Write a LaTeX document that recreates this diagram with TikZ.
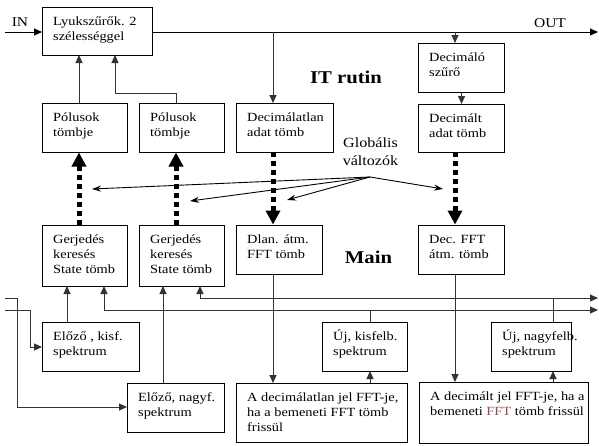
\documentclass[tikz,border=0pt]{standalone}
\usepackage{fontspec}
\setmainfont{Liberation Serif}[FakeStretch=1.15]
\usetikzlibrary{arrows.meta}

\definecolor{wirecol}{gray}{0.2}
\definecolor{fftred}{rgb}{0.55,0.30,0.30}

\tikzset{
  blk/.style={draw=black, line width=1.1pt, anchor=north west, inner sep=0pt},
  txt/.style={anchor=base west, inner sep=0pt,
              font=\fontsize{12.5}{15}\selectfont},
  wire/.style={draw=wirecol, line width=1pt},
  tip/.style={-{Triangle[length=8pt,width=7pt]}},
  dots/.style={draw=black, line width=5pt, dash pattern=on 5pt off 4pt,
               -{Triangle[length=14pt,width=14pt]}},
  glob/.style={draw=black, line width=0.9pt, -{Stealth[length=9pt,width=6pt]}},
  big/.style={font=\fontsize{18}{20}\selectfont\bfseries, inner sep=0pt, anchor=base},
}

% lines stacked from the first baseline downwards
\newcommand\lines[1]{\begin{tabular}[t]{@{}l@{}}#1\end{tabular}}

% box with its text set at the top left corner
\newcommand\blkbox[6]{%
  \node[blk, minimum width=#4pt, minimum height=#5pt] (#1) at (#2,#3) {};
  \node[txt] (#1-t) at ([xshift=11pt,yshift=-18pt]#1.north west) {\lines{#6}};
}

\begin{document}
\begin{tikzpicture}[x=1pt,y=-1pt]
\useasboundingbox (0,0) rectangle (599,445);

% ---- IT routine blocks
\blkbox{ly}{42}{7}{110}{48}{Lyukszűrők. 2\\szélességgel}
\blkbox{p1}{42}{103}{85}{49}{Pólusok\\tömbje}
\blkbox{p2}{139}{103}{85}{49}{Pólusok\\tömbje}
\blkbox{dl}{236}{103}{97}{49}{Decimálatlan\\adat tömb}
\blkbox{dsz}{418}{43}{86}{49}{Decimáló\\szűrő}
\blkbox{dt}{418}{104}{86}{48}{Decimált\\adat tömb}

% ---- main blocks
\blkbox{g1}{42}{225}{85}{61}{Gerjedés\\keresés\\State tömb}
\blkbox{g2}{139}{225}{85}{61}{Gerjedés\\keresés\\State tömb}
\blkbox{dlf}{236}{225}{86}{49}{Dlan. átm.\\FFT tömb}
\blkbox{df}{418}{225}{86}{49}{Dec. FFT\\átm. tömb}

\blkbox{ek}{42}{322}{97}{49}{Előző , kisf.\\spektrum}
\blkbox{en}{127}{383}{97}{49}{Előző, nagyf.\\spektrum}
\blkbox{uk}{322}{322}{85}{49}{Új, kisfelb.\\spektrum}
\blkbox{un}{491}{322}{80}{49}{Új, nagyfelb.\\spektrum}
\blkbox{ad1}{236}{383}{171}{59}{A decimálatlan jel FFT-je,\\ha a bemeneti FFT tömb\\frissül}
\blkbox{ad2}{419}{382}{169}{61}{A decimált jel FFT-je, ha a\\bemeneti {\color{fftred}FFT} tömb frissül}

% ---- titles
\node[big] (itr) at (346,83) {IT rutin};
\node[big] (mn) at (368.5,263) {Main};
\node[anchor=base, inner sep=0pt, font=\fontsize{14}{18}\selectfont]
  (gv-t) at (370.5,147) {\begin{tabular}[t]{@{}c@{}}Globális\\változók\end{tabular}};
\node[anchor=base, inner sep=0pt, font=\fontsize{13.5}{15}\selectfont] (in-t) at (20,26) {IN};
\node[anchor=base, inner sep=0pt, font=\fontsize{13.5}{15}\selectfont] (out-t) at (550,27) {OUT};

% ---- signal path
\coordinate (inL) at (5,32);
\coordinate (outR) at (598,32);
\draw[wire, draw=black, tip] (inL) -- (ly.west |- inL);
\draw[wire, draw=black, tip] (ly.east |- outR) -- (outR);
\draw[wire, tip] (273,32) -- (273,103);
\draw[wire, tip] (455,32) -- (455,43);
\draw[wire, tip] (dsz.south) -- (dt.north);

% poles into the notch filters
\draw[wire, tip] (79,103) -- (79,55);
\draw[wire, tip] (176,103) -- (176,93) -- (115,93) -- (115,55);

% global variable exchange
\draw[dots] (79,225) -- (79,152.5);
\draw[dots] (176,225) -- (176,152.5);
\draw[dots] (273,152) -- (273,224.5);
\draw[dots] (455,152) -- (455,224.5);

\coordinate (gv) at (370,177);
\coordinate (gv1) at (92,189);
\coordinate (gv2) at (190,201);
\coordinate (gv3) at (287,200);
\coordinate (gv4) at (443,189);
\draw[glob] (gv) -- (gv1);
\draw[glob] (gv) -- (gv2);
\draw[glob] (gv) -- (gv3);
\draw[glob] (gv) -- (gv4);

% FFT chain
\draw[wire, tip] (273,274) -- (273,383);
\draw[wire, tip] (455,274) -- (455,382);
\draw[wire, tip] (370,383) -- (370,371);
\draw[wire, tip] (553,382) -- (553,371);

% spectra feedback into the excitation search
\draw[wire, tip] (67,322) -- (67,286);
\draw[wire, tip] (163,383) -- (163,286);
\coordinate (kR) at (598,310);
\coordinate (nR) at (598,298);
\draw[wire, tip] (370,322) -- (370,310) -- (104,310) -- (104,286);
\draw[wire, tip] (370,310) -- (kR);
\draw[wire, tip] (553,322) -- (553,298) -- (200,298) -- (200,286);
\draw[wire, tip] (553,298) -- (nR);

% wrapped-around returns on the left
\draw[wire, tip] (5,298) -- (17,298) -- (17,407) -- (en.west |- 0,407);
\draw[wire, tip] (5,310) -- (30,310) -- (30,347) -- (ek.west |- 0,347);
\end{tikzpicture}
\end{document}
